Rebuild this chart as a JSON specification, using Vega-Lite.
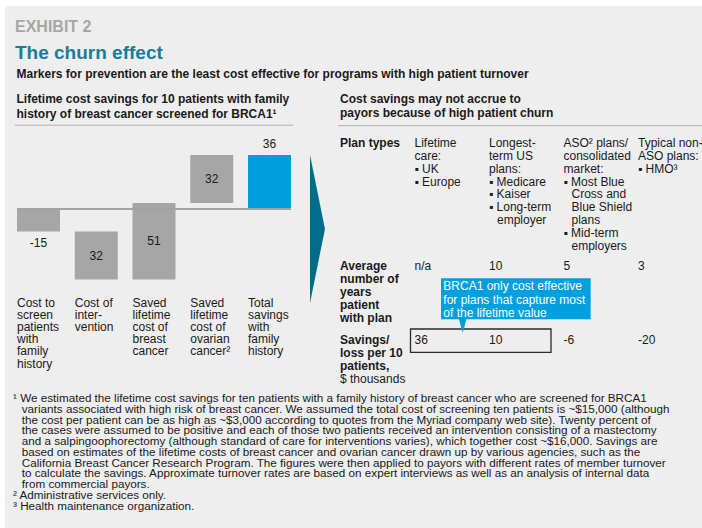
{
  "$schema": "https://vega.github.io/schema/vega-lite/v6.json",
  "width": 702,
  "height": 528,
  "autosize": {"type": "fit", "contains": "padding"},
  "padding": {"left": 5, "top": 6, "right": 0, "bottom": 0},
  "background": "white",
  "config": {
    "view": {"fill": "#eeeeee", "stroke": null},
    "axis": {"disable": true},
    "legend": {"disable": true},
    "text": {"font": "Liberation Sans", "color": "#1a1a1a"}
  },
  "datasets": {
    "waterfall": [
      {"step": "screen", "label": "Cost to\nscreen\npatients\nwith\nfamily\nhistory", "amount": -15, "start": 0, "end": -15, "kind": "step", "next": "intervention"},
      {"step": "intervention", "label": "Cost of\ninter-\nvention", "amount": 32, "start": -15, "end": -47, "kind": "step", "next": "breast"},
      {"step": "breast", "label": "Saved\nlifetime\ncost of\nbreast\ncancer", "amount": 51, "start": -47, "end": 4, "kind": "step", "next": "ovarian"},
      {"step": "ovarian", "label": "Saved\nlifetime\ncost of\novarian\ncancer²", "amount": 32, "start": 4, "end": 36, "kind": "step", "next": "total"},
      {"step": "total", "label": "Total\nsavings\nwith\nfamily\nhistory", "amount": 36, "start": 0, "end": 36, "kind": "total", "next": null}
    ],
    "plans": [
      {"col": "c1", "types": "Lifetime\ncare:\n▪ UK\n▪ Europe", "years": "n/a", "savings": 36},
      {"col": "c2", "types": "Longest-\nterm US\nplans:\n▪ Medicare\n▪ Kaiser\n▪ Long-term\n\u200b\u2004\u2004employer", "years": 10, "savings": 10},
      {"col": "c3", "types": "ASO² plans/\nconsolidated\nmarket:\n▪ Most Blue\n\u200b\u2004\u2004Cross and\n\u200b\u2004\u2004Blue Shield\n\u200b\u2004\u2004plans\n▪ Mid-term\n\u200b\u2004\u2004employers", "years": 5, "savings": -6},
      {"col": "c4", "types": "Typical non-\nASO plans:\n▪ HMO³", "years": 3, "savings": -20}
    ],
    "rowlabels": [
      {"row": "plan", "label": "Plan types"},
      {"row": "years", "label": "Average\nnumber of\nyears\npatient\nwith plan"},
      {"row": "savings", "label": "Savings/\nloss per 10\npatients,"}
    ]
  },
  "resolve": {"scale": {"x": "independent", "y": "independent", "color": "independent"}},
  "layer": [
    {
      "data": {"values": [{"text": "EXHIBIT 2"}]},
      "mark": {"type": "text", "align": "left", "baseline": "alphabetic", "fontSize": 16, "fontWeight": "bold", "color": "#a6a6a6"},
      "encoding": {
        "text": {"field": "text"},
        "x": {"datum": 10, "type": "quantitative", "scale": {"type": "linear", "domain": [0, 697], "range": [0, 697], "zero": false, "nice": false}},
        "y": {"datum": 26, "type": "quantitative", "scale": {"type": "linear", "domain": [0, 522], "range": [0, 522], "zero": false, "nice": false}}
      }
    },
    {
      "data": {"values": [{"text": "The churn effect"}]},
      "mark": {"type": "text", "align": "left", "baseline": "alphabetic", "fontSize": 19, "fontWeight": "bold", "color": "#177d98"},
      "encoding": {
        "text": {"field": "text"},
        "x": {"datum": 10, "type": "quantitative", "scale": {"type": "linear", "domain": [0, 697], "range": [0, 697], "zero": false, "nice": false}},
        "y": {"datum": 53.3, "type": "quantitative", "scale": {"type": "linear", "domain": [0, 522], "range": [0, 522], "zero": false, "nice": false}}
      }
    },
    {
      "data": {"values": [{"text": "Markers for prevention are the least cost effective for programs with high patient turnover"}]},
      "mark": {"type": "text", "align": "left", "baseline": "alphabetic", "fontSize": 12, "fontWeight": "bold"},
      "encoding": {
        "text": {"field": "text"},
        "x": {"datum": 11.5, "type": "quantitative", "scale": {"type": "linear", "domain": [0, 697], "range": [0, 697], "zero": false, "nice": false}},
        "y": {"datum": 72.3, "type": "quantitative", "scale": {"type": "linear", "domain": [0, 522], "range": [0, 522], "zero": false, "nice": false}}
      }
    },
    {
      "data": {"values": [{"text": "Lifetime cost savings for 10 patients with family\nhistory of breast cancer screened for BRCA1¹"}]},
      "mark": {"type": "text", "align": "left", "baseline": "alphabetic", "fontSize": 12, "fontWeight": "bold", "lineBreak": "\n", "lineHeight": 14.4},
      "encoding": {
        "text": {"field": "text"},
        "x": {"datum": 11.5, "type": "quantitative", "scale": {"type": "linear", "domain": [0, 697], "range": [0, 697], "zero": false, "nice": false}},
        "y": {"datum": 97.3, "type": "quantitative", "scale": {"type": "linear", "domain": [0, 522], "range": [0, 522], "zero": false, "nice": false}}
      }
    },
    {
      "data": {"values": [{"text": "Cost savings may not accrue to\npayors because of high patient churn"}]},
      "mark": {"type": "text", "align": "left", "baseline": "alphabetic", "fontSize": 12, "fontWeight": "bold", "lineBreak": "\n", "lineHeight": 13.6},
      "encoding": {
        "text": {"field": "text"},
        "x": {"datum": 335, "type": "quantitative", "scale": {"type": "linear", "domain": [0, 697], "range": [0, 697], "zero": false, "nice": false}},
        "y": {"datum": 97.3, "type": "quantitative", "scale": {"type": "linear", "domain": [0, 522], "range": [0, 522], "zero": false, "nice": false}}
      }
    },
    {
      "data": {"values": [{"section": "left"}]},
      "mark": {"type": "rule", "color": "#b0b0b0", "strokeWidth": 1},
      "encoding": {
        "x": {"datum": 10, "type": "quantitative", "scale": {"type": "linear", "domain": [0, 697], "range": [0, 697], "zero": false, "nice": false}},
        "x2": {"datum": 288},
        "y": {"datum": 119.2, "type": "quantitative", "scale": {"type": "linear", "domain": [0, 522], "range": [0, 522], "zero": false, "nice": false}}
      }
    },
    {
      "data": {"values": [{"section": "right"}]},
      "mark": {"type": "rule", "color": "#b0b0b0", "strokeWidth": 1},
      "encoding": {
        "x": {"datum": 333, "type": "quantitative", "scale": {"type": "linear", "domain": [0, 697], "range": [0, 697], "zero": false, "nice": false}},
        "x2": {"datum": 697},
        "y": {"datum": 119.7, "type": "quantitative", "scale": {"type": "linear", "domain": [0, 522], "range": [0, 522], "zero": false, "nice": false}}
      }
    },
    {
      "data": {"name": "waterfall"},
      "transform": [{"filter": {"field": "next", "valid": true}}],
      "mark": {"type": "rule", "color": "#555555", "strokeWidth": 1.5, "strokeDash": [1, 1]},
      "encoding": {
        "x": {"field": "step", "type": "nominal", "scale": {"type": "band", "domain": ["screen", "intervention", "breast", "ovarian", "total"], "range": [12, 286], "paddingInner": 0.2554, "paddingOuter": 0}},
        "x2": {"field": "next"},
        "y": {"field": "end", "type": "quantitative", "scale": {"type": "linear", "domain": [-60, 60], "range": [293, 113], "zero": false, "nice": false}}
      }
    },
    {
      "data": {"name": "waterfall"},
      "mark": {"type": "bar"},
      "encoding": {
        "x": {"field": "step", "type": "nominal", "scale": {"type": "band", "domain": ["screen", "intervention", "breast", "ovarian", "total"], "range": [12, 286], "paddingInner": 0.2554, "paddingOuter": 0}},
        "y": {"field": "start", "type": "quantitative", "scale": {"type": "linear", "domain": [-60, 60], "range": [293, 113], "zero": false, "nice": false}},
        "y2": {"field": "end"},
        "color": {"field": "kind", "type": "nominal", "scale": {"domain": ["step", "total"], "range": ["#a6a6a6", "#009ddc"]}, "legend": null}
      }
    },
    {
      "data": {"values": [{"level": 0}]},
      "mark": {"type": "rule", "color": "#a3a3a3", "strokeWidth": 2},
      "encoding": {
        "x": {"datum": "screen", "type": "nominal", "bandPosition": 0, "scale": {"type": "band", "domain": ["screen", "intervention", "breast", "ovarian", "total"], "range": [12, 286], "paddingInner": 0.2554, "paddingOuter": 0}},
        "x2": {"datum": "total", "bandPosition": 1},
        "y": {"field": "level", "type": "quantitative", "scale": {"type": "linear", "domain": [-60, 60], "range": [293, 113], "zero": false, "nice": false}}
      }
    },
    {
      "data": {"name": "waterfall"},
      "transform": [
        {"filter": {"field": "step", "oneOf": ["intervention", "breast", "ovarian"]}},
        {"calculate": "(datum.start + datum.end) / 2", "as": "mid"}
      ],
      "mark": {"type": "text", "fontSize": 12, "baseline": "middle"},
      "encoding": {
        "text": {"field": "amount", "type": "nominal"},
        "x": {"field": "step", "type": "nominal", "scale": {"type": "band", "domain": ["screen", "intervention", "breast", "ovarian", "total"], "range": [12, 286], "paddingInner": 0.2554, "paddingOuter": 0}},
        "y": {"field": "mid", "type": "quantitative", "scale": {"type": "linear", "domain": [-60, 60], "range": [293, 113], "zero": false, "nice": false}}
      }
    },
    {
      "data": {"name": "waterfall"},
      "transform": [{"filter": {"field": "step", "equal": "screen"}}],
      "mark": {"type": "text", "fontSize": 12, "baseline": "middle", "dy": 11},
      "encoding": {
        "text": {"field": "amount", "type": "nominal"},
        "x": {"field": "step", "type": "nominal", "scale": {"type": "band", "domain": ["screen", "intervention", "breast", "ovarian", "total"], "range": [12, 286], "paddingInner": 0.2554, "paddingOuter": 0}},
        "y": {"field": "end", "type": "quantitative", "scale": {"type": "linear", "domain": [-60, 60], "range": [293, 113], "zero": false, "nice": false}}
      }
    },
    {
      "data": {"name": "waterfall"},
      "transform": [{"filter": {"field": "step", "equal": "total"}}],
      "mark": {"type": "text", "fontSize": 12, "baseline": "middle", "dy": -11},
      "encoding": {
        "text": {"field": "amount", "type": "nominal"},
        "x": {"field": "step", "type": "nominal", "scale": {"type": "band", "domain": ["screen", "intervention", "breast", "ovarian", "total"], "range": [12, 286], "paddingInner": 0.2554, "paddingOuter": 0}},
        "y": {"field": "end", "type": "quantitative", "scale": {"type": "linear", "domain": [-60, 60], "range": [293, 113], "zero": false, "nice": false}}
      }
    },
    {
      "data": {"name": "waterfall"},
      "mark": {"type": "text", "fontSize": 12, "align": "left", "baseline": "alphabetic", "lineBreak": "\n", "lineHeight": 12.2},
      "encoding": {
        "text": {"field": "label", "type": "nominal"},
        "x": {"field": "step", "type": "nominal", "bandPosition": 0, "scale": {"type": "band", "domain": ["screen", "intervention", "breast", "ovarian", "total"], "range": [12, 286], "paddingInner": 0.2554, "paddingOuter": 0}},
        "y": {"datum": -65, "type": "quantitative", "scale": {"type": "linear", "domain": [-60, 60], "range": [293, 113], "zero": false, "nice": false}}
      }
    },
    {
      "data": {"values": [{"shape": "arrow"}]},
      "mark": {"type": "point", "shape": "M0.257,-1L0.459,0L0.257,1Z", "size": 21904, "filled": true, "color": "#006e8a", "opacity": 1, "strokeWidth": 0},
      "encoding": {
        "x": {"datum": "total", "type": "nominal", "bandPosition": 1, "scale": {"type": "band", "domain": ["screen", "intervention", "breast", "ovarian", "total"], "range": [12, 286], "paddingInner": 0.2554, "paddingOuter": 0}},
        "y": {"datum": -13.33, "type": "quantitative", "scale": {"type": "linear", "domain": [-60, 60], "range": [293, 113], "zero": false, "nice": false}}
      }
    },
    {
      "data": {"name": "rowlabels"},
      "mark": {"type": "text", "fontSize": 12, "fontWeight": "bold", "align": "left", "baseline": "alphabetic", "lineBreak": "\n", "lineHeight": 13},
      "encoding": {
        "text": {"field": "label", "type": "nominal"},
        "x": {"datum": "label", "type": "nominal", "scale": {"type": "point", "domain": ["label", "c1", "c2", "c3", "c4"], "range": [335, 633], "padding": 0}},
        "y": {"field": "row", "type": "nominal", "scale": {"type": "point", "domain": ["plan", "g1", "g2", "g3", "g4", "years", "g5", "g6", "savings"], "range": [140.7, 338.3], "padding": 0}}
      }
    },
    {
      "data": {"values": [{"unit": "$ thousands"}]},
      "mark": {"type": "text", "fontSize": 12, "align": "left", "baseline": "alphabetic", "dy": 38.8},
      "encoding": {
        "text": {"field": "unit", "type": "nominal"},
        "x": {"datum": "label", "type": "nominal", "scale": {"type": "point", "domain": ["label", "c1", "c2", "c3", "c4"], "range": [335, 633], "padding": 0}},
        "y": {"datum": "savings", "type": "nominal", "scale": {"type": "point", "domain": ["plan", "g1", "g2", "g3", "g4", "years", "g5", "g6", "savings"], "range": [140.7, 338.3], "padding": 0}}
      }
    },
    {
      "data": {"name": "plans"},
      "mark": {"type": "text", "fontSize": 12, "align": "left", "baseline": "alphabetic", "lineBreak": "\n", "lineHeight": 12.95},
      "encoding": {
        "text": {"field": "types", "type": "nominal"},
        "x": {"field": "col", "type": "nominal", "scale": {"type": "point", "domain": ["label", "c1", "c2", "c3", "c4"], "range": [335, 633], "padding": 0}},
        "y": {"datum": "plan", "type": "nominal", "scale": {"type": "point", "domain": ["plan", "g1", "g2", "g3", "g4", "years", "g5", "g6", "savings"], "range": [140.7, 338.3], "padding": 0}}
      }
    },
    {
      "data": {"name": "plans"},
      "mark": {"type": "text", "fontSize": 12, "align": "left", "baseline": "alphabetic"},
      "encoding": {
        "text": {"field": "years", "type": "nominal"},
        "x": {"field": "col", "type": "nominal", "scale": {"type": "point", "domain": ["label", "c1", "c2", "c3", "c4"], "range": [335, 633], "padding": 0}},
        "y": {"datum": "years", "type": "nominal", "scale": {"type": "point", "domain": ["plan", "g1", "g2", "g3", "g4", "years", "g5", "g6", "savings"], "range": [140.7, 338.3], "padding": 0}}
      }
    },
    {
      "data": {"name": "plans"},
      "mark": {"type": "text", "fontSize": 12, "align": "left", "baseline": "alphabetic"},
      "encoding": {
        "text": {"field": "savings", "type": "nominal"},
        "x": {"field": "col", "type": "nominal", "scale": {"type": "point", "domain": ["label", "c1", "c2", "c3", "c4"], "range": [335, 633], "padding": 0}},
        "y": {"datum": "savings", "type": "nominal", "scale": {"type": "point", "domain": ["plan", "g1", "g2", "g3", "g4", "years", "g5", "g6", "savings"], "range": [140.7, 338.3], "padding": 0}}
      }
    },
    {
      "data": {"values": [{"from": "c1", "to": "c3", "row": "savings"}]},
      "mark": {"type": "rect", "fillOpacity": 0, "stroke": "#2a2a2a", "strokeWidth": 1.3, "xOffset": -4, "x2Offset": -12.5, "yOffset": -15.3, "y2Offset": 8},
      "encoding": {
        "x": {"field": "from", "type": "nominal", "scale": {"type": "point", "domain": ["label", "c1", "c2", "c3", "c4"], "range": [335, 633], "padding": 0}},
        "x2": {"field": "to"},
        "y": {"field": "row", "type": "nominal", "scale": {"type": "point", "domain": ["plan", "g1", "g2", "g3", "g4", "years", "g5", "g6", "savings"], "range": [140.7, 338.3], "padding": 0}},
        "y2": {"field": "row"}
      }
    },
    {
      "data": {"values": [{"from": "c1", "to": "c3", "top": "years", "bottom": "savings"}]},
      "mark": {"type": "rect", "color": "#00a0de", "xOffset": 26.5, "x2Offset": 27.2, "yOffset": 8.1, "y2Offset": -25},
      "encoding": {
        "x": {"field": "from", "type": "nominal", "scale": {"type": "point", "domain": ["label", "c1", "c2", "c3", "c4"], "range": [335, 633], "padding": 0}},
        "x2": {"field": "to"},
        "y": {"field": "top", "type": "nominal", "scale": {"type": "point", "domain": ["plan", "g1", "g2", "g3", "g4", "years", "g5", "g6", "savings"], "range": [140.7, 338.3], "padding": 0}},
        "y2": {"field": "bottom"}
      }
    },
    {
      "data": {"values": [{"col": "c1", "row": "savings"}]},
      "mark": {"type": "point", "shape": "M-0.6,-1.15L0.6,-1.15L0,1Z", "size": 180, "filled": true, "color": "#00a0de", "opacity": 1, "strokeWidth": 0, "xOffset": 48.2, "yOffset": -18.3},
      "encoding": {
        "x": {"field": "col", "type": "nominal", "scale": {"type": "point", "domain": ["label", "c1", "c2", "c3", "c4"], "range": [335, 633], "padding": 0}},
        "y": {"field": "row", "type": "nominal", "scale": {"type": "point", "domain": ["plan", "g1", "g2", "g3", "g4", "years", "g5", "g6", "savings"], "range": [140.7, 338.3], "padding": 0}}
      }
    },
    {
      "data": {"values": [{"col": "c1", "row": "years", "text": "BRCA1 only cost effective\nfor plans that capture most\nof the lifetime value"}]},
      "mark": {"type": "text", "fontSize": 12, "color": "white", "align": "left", "baseline": "alphabetic", "lineBreak": "\n", "lineHeight": 13.5, "dx": 28.8, "dy": 19.8},
      "encoding": {
        "text": {"field": "text", "type": "nominal"},
        "x": {"field": "col", "type": "nominal", "scale": {"type": "point", "domain": ["label", "c1", "c2", "c3", "c4"], "range": [335, 633], "padding": 0}},
        "y": {"field": "row", "type": "nominal", "scale": {"type": "point", "domain": ["plan", "g1", "g2", "g3", "g4", "years", "g5", "g6", "savings"], "range": [140.7, 338.3], "padding": 0}}
      }
    },
    {
      "data": {"values": [{"text": "¹ We estimated the lifetime cost savings for ten patients with a family history of breast cancer who are screened for BRCA1\n\u200b\u2002\u2005variants associated with high risk of breast cancer. We assumed the total cost of screening ten patients is ~$15,000 (although\n\u200b\u2002\u2005the cost per patient can be as high as ~$3,000 according to quotes from the Myriad company web site). Twenty percent of\n\u200b\u2002\u2005the cases were assumed to be positive and each of those two patients received an intervention consisting of a mastectomy\n\u200b\u2002\u2005and a salpingoophorectomy (although standard of care for interventions varies), which together cost ~$16,000. Savings are\n\u200b\u2002\u2005based on estimates of the lifetime costs of breast cancer and ovarian cancer drawn up by various agencies, such as the\n\u200b\u2002\u2005California Breast Cancer Research Program. The figures were then applied to payors with different rates of member turnover\n\u200b\u2002\u2005to calculate the savings. Approximate turnover rates are based on expert interviews as well as an analysis of internal data\n\u200b\u2002\u2005from commercial payors.\n² Administrative services only.\n³ Health maintenance organization."}]},
      "mark": {"type": "text", "fontSize": 11.7, "align": "left", "baseline": "alphabetic", "lineBreak": "\n", "lineHeight": 10.75},
      "encoding": {
        "text": {"field": "text", "type": "nominal"},
        "x": {"datum": 8, "type": "quantitative", "scale": {"type": "linear", "domain": [0, 697], "range": [0, 697], "zero": false, "nice": false}},
        "y": {"datum": 396, "type": "quantitative", "scale": {"type": "linear", "domain": [0, 522], "range": [0, 522], "zero": false, "nice": false}}
      }
    }
  ]
}
